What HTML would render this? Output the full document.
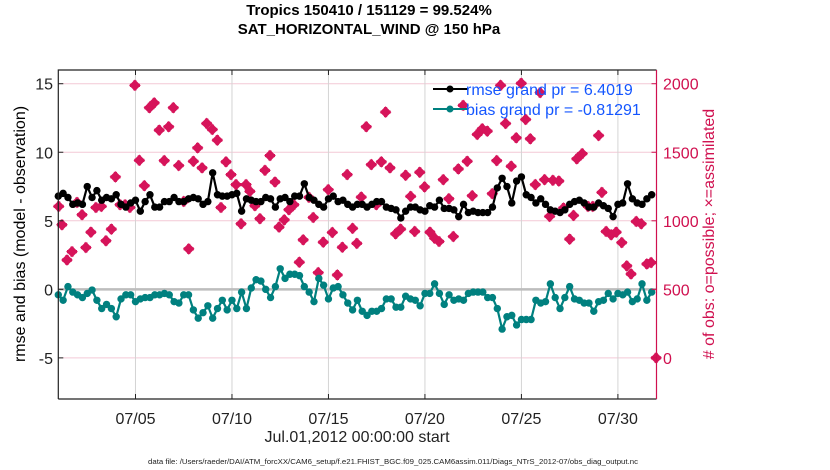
<!DOCTYPE html>
<html><head><meta charset="utf-8">
<style>
html,body{margin:0;padding:0;background:#fff;}
svg{display:block;font-family:"Liberation Sans",Arial,sans-serif;}
</style></head>
<body>
<svg id="chart" width="830" height="470" viewBox="0 0 830 470">
  <g id="grid"></g>
  <g id="marks"></g>
  <g id="axes"></g>
  <text x="369" y="15" text-anchor="middle" font-size="15" font-weight="bold">Tropics 150410 / 151129 = 99.524%</text>
  <text x="369" y="34" text-anchor="middle" font-size="15" font-weight="bold">SAT_HORIZONTAL_WIND @ 150 hPa</text>
  <text transform="translate(25,234) rotate(-90)" text-anchor="middle" font-size="16">rmse and bias (model - observation)</text>
  <text transform="translate(714,234) rotate(-90)" text-anchor="middle" font-size="16" fill="#d0104f"># of obs: o=possible; ×=assimilated</text>
  <text x="357" y="442" text-anchor="middle" font-size="16" fill="#222">Jul.01,2012 00:00:00 start</text>
  <text x="393" y="464" text-anchor="middle" font-size="7.5" fill="#222" textLength="490" lengthAdjust="spacingAndGlyphs">data file: /Users/raeder/DAI/ATM_forcXX/CAM6_setup/f.e21.FHIST_BGC.f09_025.CAM6assim.011/Diags_NTrS_2012-07/obs_diag_output.nc</text>
  <g>
    <line x1="433" y1="89" x2="468" y2="89" stroke="#000" stroke-width="2"/>
    <circle cx="450" cy="89" r="3.5" fill="#000"/>
    <text x="466" y="95" font-size="16" fill="#1456ff">rmse grand pr = 6.4019</text>
    <line x1="433" y1="109" x2="468" y2="109" stroke="#00807f" stroke-width="2"/>
    <circle cx="450" cy="109" r="3.5" fill="#00807f"/>
    <text x="466" y="115" font-size="16" fill="#1456ff">bias grand pr = -0.81291</text>
  </g>
</svg>
<script>
const rmse = [6.8,7.0,6.7,6.2,6.3,6.2,7.5,6.7,7.2,6.5,6.7,6.6,6.9,6.2,6.0,6.3,6.5,5.7,6.4,6.9,6.0,6.0,6.4,6.4,6.7,6.4,6.4,6.6,6.7,6.6,6.2,6.4,
8.5,6.9,6.8,6.8,6.9,7.0,5.7,6.6,6.5,6.4,6.4,6.7,6.6,6.0,6.6,6.7,6.4,6.8,6.8,7.7,6.7,6.5,6.2,6.0,6.6,6.8,6.4,6.5,6.2,6.0,6.2,
6.2,6.0,6.2,6.4,6.4,6.0,5.9,5.8,5.2,5.7,6.0,6.0,5.8,5.7,6.1,6.0,6.5,5.9,5.9,5.8,5.3,6.2,5.6,5.7,5.6,5.6,5.6,6.0,7.4,8.1,7.5,
6.3,7.9,8.2,6.9,6.7,6.3,6.6,6.2,5.8,5.7,5.6,5.8,6.2,6.4,6.5,6.3,6.0,6.0,6.3,6.1,5.9,5.3,6.2,6.3,7.7,6.6,6.3,6.2,6.6,6.9];
const bias = [-0.4,-0.8,0.2,-0.2,-0.4,-0.6,-0.3,-0.05,-0.8,-1.4,-1.1,-1.4,-2.0,-0.7,-0.4,-0.4,-0.9,-0.7,-0.6,-0.6,-0.4,-0.4,-0.3,-0.4,-0.9,-1.0,-0.4,-0.4,-1.5,-2.1,-1.7,-1.2,
-2.1,-1.4,-0.8,-1.5,-0.8,-1.4,-0.2,-1.4,0.1,0.7,0.6,0.0,-0.6,0.2,1.5,0.8,1.1,1.1,1.0,0.2,-0.2,-0.9,0.8,0.3,-0.7,0.1,0.2,-0.4,-1.0,-1.5,-0.8,
-1.6,-1.9,-1.6,-1.6,-1.4,-0.7,-0.7,-1.3,-1.3,-0.5,-0.7,-0.8,-1.2,-0.3,-0.3,0.4,-0.3,-1.1,-0.4,-0.8,-0.7,-0.8,-0.3,-0.2,-0.2,-0.2,-0.6,-0.6,-1.4,-2.9,-2.0,
-1.9,-2.6,-2.2,-2.2,-2.2,-0.8,-1.0,-0.9,0.4,-0.6,-1.4,-0.6,0.2,-0.7,-0.8,-1.0,-1.0,-1.6,-0.9,-0.8,-0.3,-0.7,-0.3,-0.4,-0.2,-0.9,-0.7,0.4,-0.8,-0.2];
const stepDays = 0.25;
const obsTimes = [0.02,0.19,0.45,0.71,0.97,1.23,1.43,1.69,1.95,2.23,2.47,2.75,2.96,3.2,3.46,3.71,3.97,4.2,4.46,4.72,4.97,5.23,5.49,5.72,5.96,6.24,6.5,6.76,7.0,7.22,7.45,7.69,
7.98,8.24,8.43,8.69,8.95,9.21,9.47,9.73,9.93,10.19,10.45,10.71,10.97,11.23,11.44,11.71,11.95,12.21,12.49,12.69,12.99,13.21,13.47,13.73,13.99,14.2,14.46,14.72,14.97,15.25,15.47,
15.7,15.96,16.22,16.48,16.74,16.96,17.19,17.48,17.74,18.0,18.26,18.47,18.73,18.98,19.26,19.5,19.73,19.95,20.24,20.47,20.73,20.98,21.19,21.45,21.71,21.97,22.23,22.49,22.72,22.92,23.18,
23.47,23.73,23.99,24.22,24.46,24.72,24.97,25.2,25.46,25.63,25.94,26.18,26.5,26.7,26.87,27.15,27.45,27.7,28.0,28.17,28.39,28.65,28.91,29.2,29.46,29.68,29.95,30.21,30.5,30.72,30.98];
const obsCounts = [1105,971,714,775,1134,1044,805,917,1097,1105,854,939,1320,1117,1117,1097,1988,1441,1256,1825,1860,1661,1439,1686,1825,1403,1141,795,1434,1532,1386,1710,
1666,1588,1097,1430,1337,1264,978,1264,1215,1110,1015,1368,1476,1283,954,1007,1081,1117,698,861,1171,1024,622,844,1227,915,605,807,1337,945,835,
1173,1686,1410,1117,1430,1793,1386,905,939,1332,1178,922,1354,1247,917,873,849,1300,1161,885,1378,1842,1434,1183,1630,1671,1654,1198,1439,1988,1710,
1398,1605,2003,1739,1598,1264,1935,1300,1032,1295,1290,1093,866,1039,1452,1490,1105,1105,1622,1207,922,898,917,841,671,612,995,978,685,695,0];
const leftTicks = [-5,0,5,10,15];
const rightTicks = [0,500,1000,1500,2000];
const dateTickDays = [4,9,14,19,24,29];
const dateTickLabels = ["07/05","07/10","07/15","07/20","07/25","07/30"];

const NS="http://www.w3.org/2000/svg";
const X0=58.3,X1=656.5,Y0=70,Y1=399;
const xDay=d=>X0+(d/31)*(X1-X0);
const yL=v=>Y1-(v-(-8))/(16-(-8))*(Y1-Y0);
const yR=c=>Y1-(c-(-300))/(2100-(-300))*(Y1-Y0);
function mk(tag,attrs,parent){const e=document.createElementNS(NS,tag);for(const k in attrs)e.setAttribute(k,attrs[k]);parent.appendChild(e);return e;}
const grid=document.getElementById('grid'),marks=document.getElementById('marks'),axes=document.getElementById('axes');

mk('rect',{x:X0,y:Y0,width:X1-X0,height:Y1-Y0,fill:'#fff'},grid);
rightTicks.forEach(c=>{const l=mk('line',{x1:X0,x2:X1,y1:yR(c),y2:yR(c),stroke:'#f3c9d6','stroke-width':1},grid);

});
dateTickDays.forEach(d=>{const l=mk('line',{x1:xDay(d),x2:xDay(d),y1:Y0,y2:Y1,stroke:'#d4d4d4','stroke-width':1},grid);

});
const zl=mk('line',{x1:X0,x2:X1,y1:yL(0),y2:yL(0),stroke:'#bdbdbd','stroke-width':2.5},grid);



obsTimes.forEach((t,i)=>{const cx=xDay(t),cy=yR(obsCounts[i]);
const g=mk('g',{},marks);


mk('path',{d:`M${cx-5.8},${cy} L${cx},${cy-5.8} L${cx+5.8},${cy} L${cx},${cy+5.8} Z`,fill:'#d6145a'},g);
mk('path',{d:`M${cx-5},${cy-1.6}h10v3.2h-10z M${cx-1.6},${cy-5}h3.2v10h-3.2z`,fill:'#d6145a'},g);});

function series(vals,color,name){
 const pts=vals.map((v,i)=>[xDay(i*stepDays),yL(v)]);
 const p=mk('polyline',{points:pts.map(p=>p.join(',')).join(' '),fill:'none',stroke:color,'stroke-width':2.2,'stroke-linejoin':'round'},marks);
 
 
 pts.forEach(([x,y])=>{const c=mk('circle',{cx:x,cy:y,r:3.7,fill:color},marks);
 
 });
}
series(bias,'#00807f','bias');
series(rmse,'#000000','rmse');

const fr=mk('path',{d:`M${X0},${Y1}V${Y0}H${X1}`,fill:'none',stroke:'#222','stroke-width':1.2},axes);


const bx=mk('line',{x1:X0,x2:X1,y1:Y1,y2:Y1,stroke:'#222','stroke-width':1.2},axes);


const ra=mk('line',{x1:X1,x2:X1,y1:Y0,y2:Y1,stroke:'#d0104f','stroke-width':1.2},axes);


leftTicks.forEach(v=>{mk('line',{x1:X0,x2:X0+5,y1:yL(v),y2:yL(v),stroke:'#222'},axes);
const t=mk('text',{x:53,y:yL(v)+6,'text-anchor':'end','font-size':16,fill:'#222'},axes);t.textContent=v;

});
rightTicks.forEach(c=>{mk('line',{x1:X1-5,x2:X1,y1:yR(c),y2:yR(c),stroke:'#d0104f'},axes);
const t=mk('text',{x:663,y:yR(c)+6,'font-size':16,fill:'#d0104f'},axes);t.textContent=c;

});
dateTickDays.forEach((d,i)=>{mk('line',{x1:xDay(d),x2:xDay(d),y1:Y1,y2:Y1-5,stroke:'#222'},axes);
mk('line',{x1:xDay(d),x2:xDay(d),y1:Y0,y2:Y0+5,stroke:'#222'},axes);
const t=mk('text',{x:xDay(d),y:424,'text-anchor':'middle','font-size':16,fill:'#222'},axes);t.textContent=dateTickLabels[i];

});
</script>
</body></html>
